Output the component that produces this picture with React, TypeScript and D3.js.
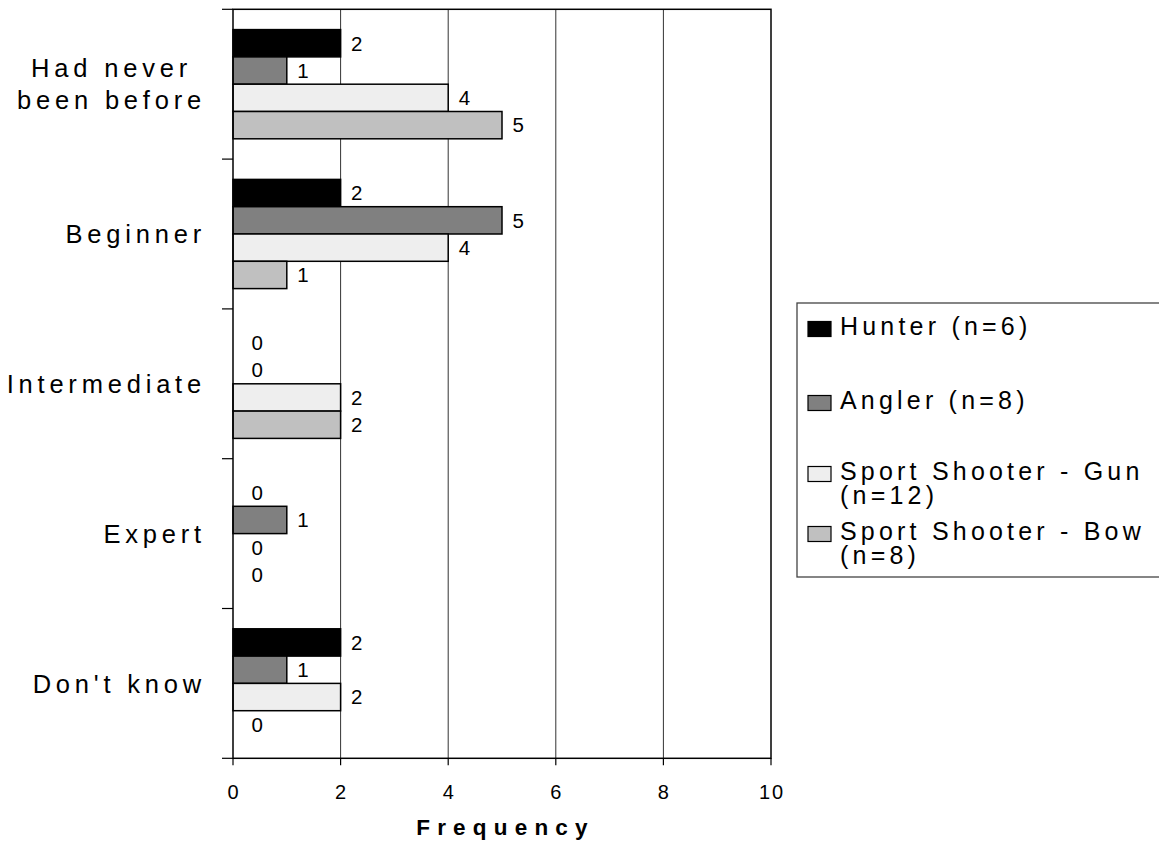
import React, { useEffect, useRef } from "react";
import * as d3 from "d3";

const categories = ["Had never|been before", "Beginner", "Intermediate", "Expert", "Don't know"];
const seriesNames = ["Hunter (n=6)", "Angler (n=8)", "Sport Shooter - Gun|(n=12)", "Sport Shooter - Bow|(n=8)"];
const hunter = [2, 2, 0, 0, 2];
const angler = [1, 5, 0, 1, 1];
const gun = [4, 4, 2, 0, 2];
const bow = [5, 1, 2, 0, 0];
const xTicks = [0, 2, 4, 6, 8, 10];
const xTitle = "Frequency";

const seriesValues = [hunter, angler, gun, bow];
const seriesColors = ["#000000", "#808080", "#eeeeee", "#c0c0c0"];

const FONT = "'Liberation Sans', Arial, Helvetica, sans-serif";

export default function App() {
  const ref = useRef<SVGSVGElement | null>(null);

  useEffect(() => {
    const svg = d3.select(ref.current);
    svg.selectAll("*").remove();

    const left = 233, right = 771, top = 9.3, bottom = 758.3;
    const x = d3.scaleLinear().domain([0, 10]).range([left, right]);
    const y = d3.scaleBand<string>().domain(categories).range([top, bottom]).padding(0);
    const bw = y.bandwidth();
    const inner = d3.scaleBand<number>().domain([0, 1, 2, 3]).range([20.3, bw - 20.3]).padding(0);

    // gridlines
    svg.append("g").selectAll("line").data(xTicks.filter(t => t > 0 && t < 10)).join("line")
      .attr("x1", d => x(d)).attr("x2", d => x(d)).attr("y1", top).attr("y2", bottom)
      .attr("stroke", "#333").attr("stroke-width", 1);

    // bars
    const g = svg.append("g");
    categories.forEach((c, ci) => {
      seriesValues.forEach((vals, si) => {
        const v = vals[ci];
        const by = (y(c) as number) + (inner(si) as number);
        const bh = inner.bandwidth();
        if (v > 0) {
          g.append("rect").attr("x", x(0)).attr("y", by).attr("width", x(v) - x(0)).attr("height", bh)
            .attr("fill", seriesColors[si]).attr("stroke", "#000").attr("stroke-width", 1.5);
        }
        g.append("text").attr("x", x(v) + (v === 0 ? 18.5 : 10.5)).attr("y", by + bh / 2 + 7.3)
          .attr("font-family", FONT).attr("font-size", 20.5).attr("fill", "#000").text(String(v));
      });
    });

    // frame
    svg.append("rect").attr("x", left).attr("y", top).attr("width", right - left).attr("height", bottom - top)
      .attr("fill", "none").attr("stroke", "#000").attr("stroke-width", 1.5);

    // y ticks
    const yEdges = categories.map(c => y(c) as number).concat([bottom]);
    svg.append("g").selectAll("line").data(yEdges).join("line")
      .attr("x1", left - 11).attr("x2", left).attr("y1", d => d).attr("y2", d => d)
      .attr("stroke", "#000").attr("stroke-width", 1.2);

    // x ticks
    svg.append("g").selectAll("line").data(xTicks).join("line")
      .attr("x1", d => x(d)).attr("x2", d => x(d)).attr("y1", bottom).attr("y2", bottom + 7)
      .attr("stroke", "#000").attr("stroke-width", 1.2);
    svg.append("g").selectAll("text").data(xTicks).join("text")
      .attr("x", d => x(d) + 1).attr("y", 798.5).attr("text-anchor", "middle")
      .attr("font-family", FONT).attr("font-size", 20).attr("letter-spacing", 2).attr("fill", "#000")
      .text(d => String(d));

    // x title
    svg.append("text").attr("x", 502 + 3.5).attr("y", 835).attr("text-anchor", "middle")
      .attr("font-family", FONT).attr("font-size", 22.5).attr("font-weight", "bold").attr("letter-spacing", 7.2)
      .text(xTitle);

    // category labels
    const blockRight = 206;
    const lineGap = 32;
    const catSize = 25.5;
    const capH = 0.716 * catSize;
    categories.forEach(c => {
      const lines = c.split("|");
      const cy = (y(c) as number) + bw / 2;
      const t = svg.append("text")
        .attr("font-family", FONT).attr("font-size", catSize).attr("letter-spacing", 4.8).attr("fill", "#000");
      const spans = lines.map((ln, i) => t.append("tspan")
        .attr("y", cy + capH / 2 + (i - (lines.length - 1) / 2) * lineGap)
        .text(ln));
      const widths = spans.map(s => (s.node() as SVGTextContentElement).getComputedTextLength());
      const maxW = Math.max(...widths);
      const center = blockRight - maxW / 2;
      spans.forEach((s, i) => s.attr("x", center - widths[i] / 2));
    });

    // legend
    svg.append("rect").attr("x", 797).attr("y", 303).attr("width", 400).attr("height", 274)
      .attr("fill", "#fff").attr("stroke", "#444").attr("stroke-width", 1.3);
    const legendBaselines = [335, 409, 480, 540];
    seriesNames.forEach((name, si) => {
      const b = legendBaselines[si];
      svg.append("rect").attr("x", 808).attr("y", b - 13.5).attr("width", 23).attr("height", 15)
        .attr("fill", seriesColors[si]).attr("stroke", "#000").attr("stroke-width", 1.2);
      const t = svg.append("text")
        .attr("font-family", FONT).attr("font-size", 25).attr("letter-spacing", 4.2).attr("fill", "#000");
      name.split("|").forEach((ln, i) => {
        t.append("tspan").attr("x", 840).attr("y", b + i * 23.5).text(ln);
      });
    });
  }, []);

  return (
    <svg ref={ref} width={1159} height={844}
      style={{ position: "absolute", left: 0, top: 0, background: "#fff" }} />
  );
}
